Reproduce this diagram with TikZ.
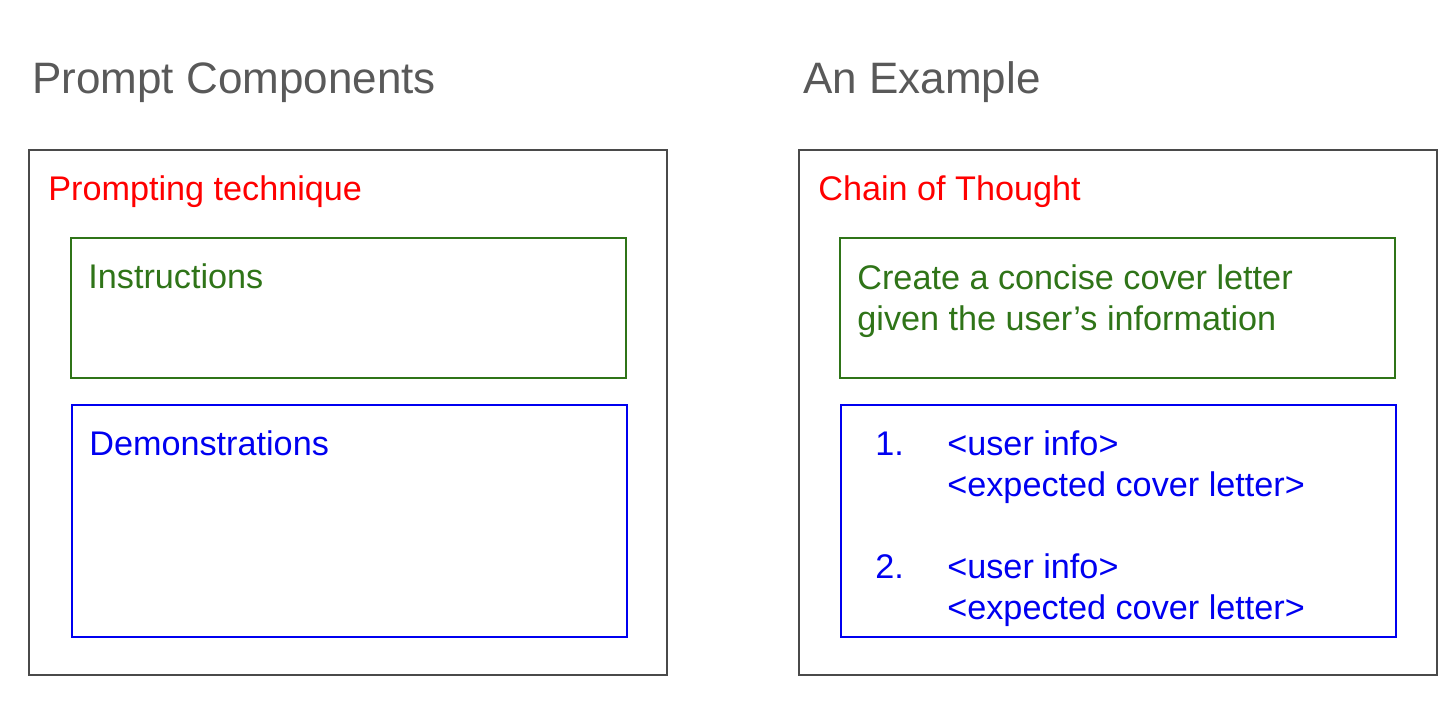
\documentclass[tikz,border=0pt]{standalone}
\usepackage{fontspec}
\setmainfont{Liberation Sans}

\definecolor{titlegray}{HTML}{595959}
\definecolor{framegray}{HTML}{4A4A4A}
\definecolor{techred}{HTML}{FF0000}
\definecolor{instrgreen}{HTML}{2F7418}
\definecolor{demoblue}{HTML}{0000F0}

\tikzset{
  heading/.style={anchor=base west, inner sep=0pt, text=titlegray,
    font=\fontsize{22}{26}\selectfont},
  boxtext/.style={anchor=base west, inner sep=0pt, align=left, text=#1,
    font=\fontsize{17.1}{20.5}\selectfont},
  framebox/.style={draw=#1, line width=0.8pt, inner sep=0pt, outer sep=0pt,
    anchor=north west},
}

\begin{document}
\begin{tikzpicture}[x=0.5pt, y=-0.5pt]
    \useasboundingbox (0,0) rectangle (1456,707);

    % Headings
    \node[heading] (compshead) at (32,93) {Prompt Components};
    \node[heading] (examplehead) at (803,93) {An Example};

    % Left: prompt components
    \node[framebox=framegray, minimum width=319pt, minimum height=262.5pt] (compframe) at (29,150) {};
    \node[framebox=instrgreen, minimum width=277.5pt, minimum height=70pt] (instrbox) at (71,238) {};
    \node[framebox=demoblue, minimum width=277.5pt, minimum height=116pt] (demobox) at (72,405) {};
    \node[boxtext=techred] (techtext) at (48,200) {Prompting technique};
    \node[boxtext=instrgreen] (instrtext) at (88,288) {Instructions};
    \node[boxtext=demoblue] (demotext) at (89,455) {Demonstrations};

    % Right: an example
    \node[framebox=framegray, minimum width=319pt, minimum height=262.5pt] (exframe) at (799,150) {};
    \node[framebox=instrgreen, minimum width=277.5pt, minimum height=70pt] (exinstrbox) at (840,238) {};
    \node[framebox=demoblue, minimum width=277.5pt, minimum height=116pt] (exdemobox) at (841,405) {};
    \node[boxtext=techred] (cottext) at (818,200) {Chain of Thought};
    % base anchor sits on the last line
    \node[boxtext=instrgreen] (exinstrtext) at (857,330)
        {Create a concise cover letter\\given the user’s information};

    % Demonstration list
    \node[boxtext=demoblue] (numone) at (875,455) {1.};
    \node[boxtext=demoblue] (demoone) at (947,496) {<user info>\\<expected cover letter>};
    \node[boxtext=demoblue] (numtwo) at (875,578) {2.};
    \node[boxtext=demoblue] (demotwo) at (947,619) {<user info>\\<expected cover letter>};
\end{tikzpicture}
\end{document}
